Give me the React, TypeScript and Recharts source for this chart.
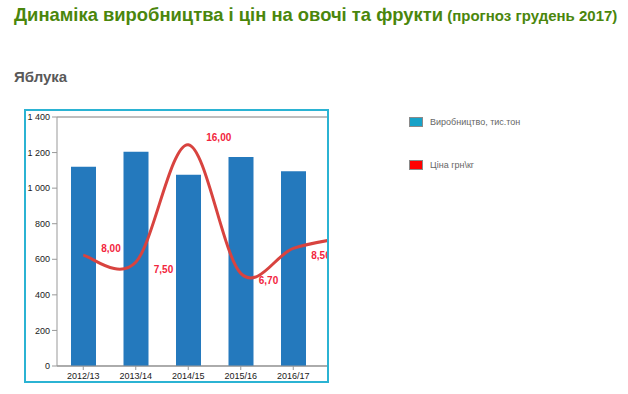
import { ComposedChart, Bar, Line, XAxis, YAxis, CartesianGrid } from 'recharts'

const seasons = ['2012/13', '2013/14', '2014/15', '2015/16', '2016/17', '2017/18']
const production = [1120, 1205, 1075, 1175, 1095, null]
const price = [8.0, 7.5, 16.0, 6.7, 8.5, 9.3]
const prodTicks = [0, 200, 400, 600, 800, 1000, 1200, 1400]

const data = seasons.map((s, i) => ({ s, prod: production[i], price: price[i] }))

const FONT = '"Liberation Sans", Arial, sans-serif'

// "1 400" style, non-breaking so recharts doesn't wrap it
const fmtThousands = (v: number) =>
  v >= 1000 ? `${Math.floor(v / 1000)}\u00a0${String(v % 1000).padStart(3, '0')}` : String(v)

// excel-like smoothing (catmull-rom through the points)
function smoothCurve(context: any) {
  let pts: number[][] = []
  return {
    areaStart() {},
    areaEnd() {},
    lineStart() {
      pts = []
    },
    point(x: number, y: number) {
      pts.push([+x, +y])
    },
    lineEnd() {
      const n = pts.length
      if (!n) return
      context.moveTo(pts[0][0], pts[0][1])
      for (let i = 0; i < n - 1; i++) {
        const p0 = pts[Math.max(i - 1, 0)]
        const p1 = pts[i]
        const p2 = pts[i + 1]
        const p3 = pts[Math.min(i + 2, n - 1)]
        context.bezierCurveTo(
          p1[0] + (p2[0] - p0[0]) / 6,
          p1[1] + (p2[1] - p0[1]) / 6,
          p2[0] - (p3[0] - p1[0]) / 6,
          p2[1] - (p3[1] - p1[1]) / 6,
          p2[0],
          p2[1]
        )
      }
    },
  }
}

// label sits above the line where it falls, below where it rises
function PriceLabel(props: any) {
  const { x, y, value, index } = props
  if (value == null) return null
  const next = price[index + 1]
  const dy = next != null && next < value ? -6 : 8
  return (
    <text x={x + 18} y={y + dy} fill="#f2253d" fontSize={10} fontWeight="bold" fontFamily={FONT} dominantBaseline="middle">
      {Number(value).toFixed(2).replace('.', ',')}
    </text>
  )
}

export default function App() {
  return (
    <div style={{ position: 'fixed', left: 0, top: 0, width: 628, height: 394, background: '#fff', fontFamily: FONT }}>
      <div style={{ position: 'absolute', left: 14, top: 4, whiteSpace: 'nowrap', color: '#4a860c', fontWeight: 'bold' }}>
        <span style={{ fontSize: 18.4 }}>Динаміка виробництва і цін на овочі та фрукти</span>
        <span style={{ fontSize: 15 }}> (прогноз грудень 2017)</span>
      </div>
      <div style={{ position: 'absolute', left: 14, top: 68, fontSize: 15, fontWeight: 'bold', color: '#595959' }}>Яблука</div>

      <div
        style={{
          position: 'absolute',
          left: 24,
          top: 109,
          width: 301,
          height: 270,
          border: '2px solid #2bb3d3',
          overflow: 'hidden',
        }}
      >
        <ComposedChart width={356} height={270} data={data} margin={{ top: 6, right: 10, bottom: 0, left: 0 }}>
          <CartesianGrid vertical={false} stroke="#a8a8a8" strokeWidth={1.5} />
          <XAxis
            dataKey="s"
            height={15}
            tickSize={4}
            tickMargin={3}
            stroke="#999"
            tick={{ fontSize: 9, fill: '#1a1a1a', fontFamily: FONT }}
            interval={0}
          />
          <YAxis
            yAxisId="left"
            width={31}
            domain={[0, 1400]}
            ticks={prodTicks}
            tickFormatter={fmtThousands}
            tickSize={5}
            tickMargin={2}
            stroke="#999"
            tick={{ fontSize: 9, fill: '#1a1a1a', fontFamily: FONT }}
            interval={0}
          />
          <YAxis yAxisId="right" orientation="right" domain={[0, 18]} hide />
          <Bar yAxisId="left" dataKey="prod" fill="#2479bd" barSize={25} isAnimationActive={false} />
          <Line
            yAxisId="right"
            type={smoothCurve as any}
            dataKey="price"
            stroke="#d8433f"
            strokeWidth={3}
            dot={false}
            label={<PriceLabel />}
            isAnimationActive={false}
          />
        </ComposedChart>
      </div>

      <div style={{ position: 'absolute', left: 409, top: 117, width: 12, height: 8, background: '#17a2c8', border: '1px solid #8a8a8a' }} />
      <div style={{ position: 'absolute', left: 430, top: 117, fontSize: 9, color: '#666', whiteSpace: 'nowrap' }}>Виробництво, тис.тон</div>
      <div style={{ position: 'absolute', left: 409, top: 160, width: 12, height: 8, background: '#ff0000', border: '1px solid #8a8a8a' }} />
      <div style={{ position: 'absolute', left: 430, top: 160, fontSize: 9, color: '#666', whiteSpace: 'nowrap' }}>Ціна грн\кг</div>
    </div>
  )
}
